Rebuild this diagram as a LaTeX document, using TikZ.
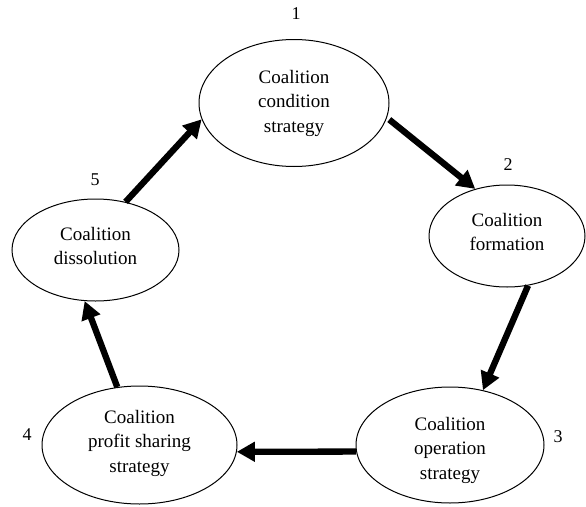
\documentclass[tikz,border=0pt]{standalone}
\usepackage{fontspec}
\setmainfont{Liberation Serif}
\usetikzlibrary{shapes.geometric,arrows.meta}
\begin{document}
\begin{tikzpicture}[x=1pt,y=-1pt,
  stage/.style={draw=black, line width=1pt, ellipse, inner sep=0pt},
  stagetxt/.style={inner sep=0pt, align=center, font=\fontsize{19}{24.5}\selectfont},
  num/.style={font=\fontsize{18}{20}\selectfont, inner sep=0pt},
  flow/.style={line width=6.3pt, -{Triangle[length=18pt,width=19pt]}}]
\useasboundingbox (0,0) rectangle (586,506);
% ellipses
\node[stage, minimum width=190pt, minimum height=127pt] (e1) at (294,103) {};
\node[stage, minimum width=156pt, minimum height=102pt] (e2) at (507,236) {};
\node[stage, minimum width=188pt, minimum height=116pt] (e3) at (450,445) {};
\node[stage, minimum width=195pt, minimum height=118pt] (e4) at (139.5,445) {};
\node[stage, minimum width=167pt, minimum height=102pt] (e5) at (95.5,250) {};
% texts
\node[stagetxt] (t1) at (294,103) {Coalition\\condition\\strategy};
\node[stagetxt] (t2) at (507,232) {Coalition\\formation};
\node[stagetxt] (t3) at (450,450) {Coalition\\operation\\strategy};
\node[stagetxt] (t4) at (139.5,443) {Coalition\\profit sharing\\strategy};
\node[stagetxt] (t5) at (95.5,246) {Coalition\\dissolution};
% numbers
\node[num] (n1) at (296,14) {1};
\node[num] (n2) at (508,165) {2};
\node[num] (n3) at (558,437) {3};
\node[num] (n4) at (27,435) {4};
\node[num] (n5) at (95,180) {5};
% arrows
\draw[flow, shorten <=3pt] (e1.-9) -- (e2.124);
\draw[flow] (e2.-67) -- (e3.59);
\draw[flow] (e3.184) -- (e4.-4);
\draw[flow] (e4.111) -- (e5.-102);
\draw[flow] (e5.58) -- (e1.190);
\end{tikzpicture}
\end{document}
